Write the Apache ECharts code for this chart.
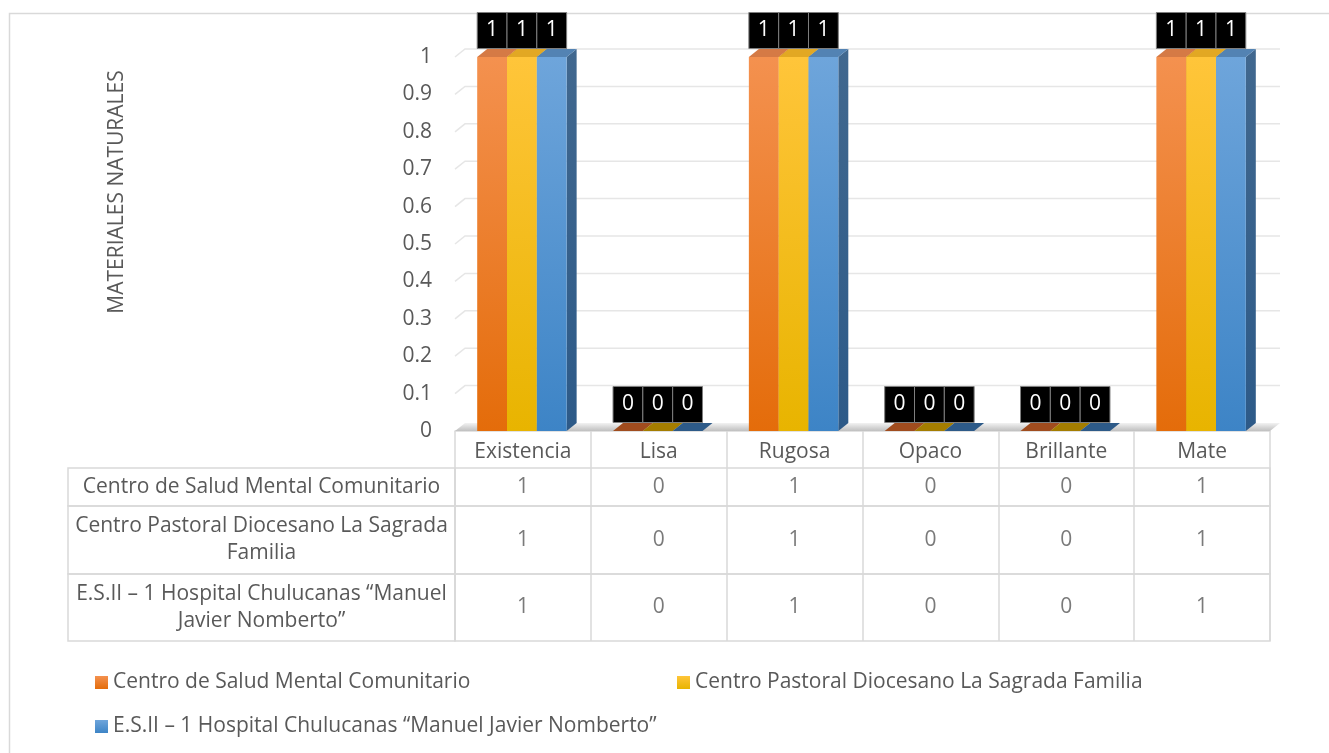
<!DOCTYPE html>
<html>
<head>
<meta charset="utf-8">
<script src="https://cdn.jsdelivr.net/npm/echarts@6/dist/echarts.min.js"></script>
<style>
html,body{margin:0;padding:0;background:#fff;}
#chart{width:1329px;height:753px;}
</style>
</head>
<body>
<div id="chart"></div>
<script>
const categories = ['Existencia', 'Lisa', 'Rugosa', 'Opaco', 'Brillante', 'Mate'];
const seriesNames = [
  'Centro de Salud Mental Comunitario',
  'Centro Pastoral Diocesano La Sagrada Familia',
  'E.S.II – 1 Hospital Chulucanas “Manuel Javier Nomberto”'
];
const rowLabels = [
  'Centro de Salud Mental Comunitario',
  'Centro Pastoral Diocesano La Sagrada\nFamilia',
  'E.S.II – 1 Hospital Chulucanas “Manuel\nJavier Nomberto”'
];
const valuesSaludMental = [1, 0, 1, 0, 0, 1];
const valuesPastoral = [1, 0, 1, 0, 0, 1];
const valuesHospital = [1, 0, 1, 0, 0, 1];
const yTicks = [0, 0.1, 0.2, 0.3, 0.4, 0.5, 0.6, 0.7, 0.8, 0.9, 1];
const yAxisTitle = 'MATERIALES NATURALES';

const allValues = [valuesSaludMental, valuesPastoral, valuesHospital];
const FONT = '"Open Sans", "Noto Sans", sans-serif';
const FS = 21;
const TXT = '#595959';
const LINE = '#d9d9d9';
const DX = 10, DY = -8;

const palettes = [
  { front: ['#F4914F', '#E46C0A'], top: '#D57A45', side: ['#B3582A', '#A04C1E'] },
  { front: ['#FFC53A', '#E8B400'], top: '#E2A823', side: ['#B88E10', '#A47D00'] },
  { front: ['#6EA5DB', '#3D84C6'], top: '#5383B3', side: ['#41688F', '#2D5A88'] }
];

function grad(c) {
  return new echarts.graphic.LinearGradient(0, 0, 0, 1, [
    { offset: 0, color: c[0] }, { offset: 1, color: c[1] }
  ]);
}

function makeBarRenderer(k) {
  const pal = palettes[k];
  return function (params, api) {
    const cat = api.value(0), val = api.value(1);
    const base = api.coord([cat, 0]);
    const top = api.coord([cat, val]);
    const band = api.size([1, 0])[0];
    const bw = band * 0.2195;
    const x = base[0] + (k - 1) * bw - bw / 2 - 1;
    const h = base[1] - top[1];
    const children = [];
    children.push({
      type: 'polygon',
      shape: { points: [[x + bw, top[1]], [x + bw + DX, top[1] + DY], [x + bw + DX, base[1] + DY], [x + bw, base[1]]] },
      style: { fill: grad(pal.side) }
    });
    if (h > 0) {
      children.push({
        type: 'rect',
        shape: { x: x, y: top[1], width: bw, height: h },
        style: { fill: grad(pal.front) }
      });
    }
    children.push({
      type: 'polygon',
      shape: { points: [[x, top[1]], [x + DX, top[1] + DY], [x + bw + DX, top[1] + DY], [x + bw, top[1]]] },
      style: { fill: val > 0 ? pal.top : pal.side[1] }
    });
    const boxH = 36, boxB = top[1] - 8.5;
    children.push({
      type: 'rect',
      shape: { x: x, y: boxB - boxH, width: bw, height: boxH },
      style: { fill: '#000', stroke: '#7f7f7f', lineWidth: 1 }
    });
    children.push({
      type: 'text',
      style: {
        x: x + bw / 2, y: boxB - boxH / 2, text: String(val),
        fill: '#fff', font: '21px ' + FONT, align: 'center', verticalAlign: 'middle'
      }
    });
    return { type: 'group', children: children };
  };
}

function renderGridLines(params, api) {
  const cs = params.coordSys;
  const v = api.value(1);
  const y = api.coord([0, v])[1];
  const x0 = cs.x, x1 = cs.x + cs.width;
  if (v === 0) {
    return {
      type: 'polygon',
      shape: { points: [[x0, y], [x0 + DX, y + DY], [x1 + DX, y + DY], [x1, y]] },
      style: {
        fill: new echarts.graphic.LinearGradient(0, 0, 0, 1, [
          { offset: 0, color: '#f2f2f2' }, { offset: 1, color: '#bfbfbf' }
        ])
      }
    };
  }
  return {
    type: 'polyline',
    shape: { points: [[x0, y], [x0 + DX, y + DY], [x1 + DX, y + DY]] },
    style: { stroke: '#e6e6e6', lineWidth: 1.5, fill: null }
  };
}

const chart = echarts.init(document.getElementById('chart'));

const rowTops = [468, 506, 574];
const rowHeights = [38, 68, 67];

const grids = [{ left: 455, right: 59, top: 57, bottom: 322 }];
const xAxes = [{
  type: 'category', data: categories, gridIndex: 0,
  axisLine: { show: true, lineStyle: { color: LINE, width: 1.5 } },
  axisTick: { show: true, length: 37, lineStyle: { color: LINE, width: 1.5 } },
  axisLabel: { color: TXT, fontSize: FS, fontFamily: FONT, margin: 11 },
  splitLine: { show: false }
}];
const yAxes = [{
  type: 'value', gridIndex: 0, min: 0, max: 1, interval: 0.1,
  axisLine: { show: false }, axisTick: { show: false },
  splitLine: { show: false },
  axisLabel: { color: TXT, fontSize: FS, fontFamily: FONT, margin: 23, formatter: v => String(+v.toFixed(1)) }
}];
const series = [{
  type: 'custom', name: 'grid', xAxisIndex: 0, yAxisIndex: 0, silent: true, z: 1,
  data: yTicks.map(v => [0, v]), encode: { x: 0, y: 1 },
  renderItem: renderGridLines
}];
allValues.forEach((vals, k) => {
  series.push({
    type: 'custom', name: seriesNames[k], xAxisIndex: 0, yAxisIndex: 0, z: 2,
    itemStyle: { color: grad(palettes[k].front) },
    data: vals.map((v, i) => [i, v]), encode: { x: 0, y: 1 },
    renderItem: makeBarRenderer(k)
  });
});

rowTops.forEach((t, r) => {
  grids.push({ left: 68, width: 387, top: t, height: rowHeights[r], show: true, borderColor: LINE, borderWidth: 1.5, backgroundColor: 'transparent' });
  grids.push({ left: 455, right: 59, top: t, height: rowHeights[r], show: true, borderColor: LINE, borderWidth: 1.5, backgroundColor: 'transparent' });
  const gi = grids.length - 1;
  xAxes.push({
    type: 'category', data: categories, gridIndex: gi,
    axisLine: { show: false }, axisTick: { show: false }, axisLabel: { show: false },
    splitLine: { show: true, lineStyle: { color: LINE, width: 1.5 } }
  });
  yAxes.push({
    type: 'category', data: [rowLabels[r]], gridIndex: gi,
    axisLine: { show: false }, axisTick: { show: false }, splitLine: { show: false },
    axisLabel: { color: TXT, fontSize: FS, fontFamily: FONT, align: 'center', margin: 193.5, lineHeight: 27 }
  });
  const ai = xAxes.length - 1;
  series.push({
    type: 'scatter', name: 'table' + r, xAxisIndex: ai, yAxisIndex: ai, silent: true,
    symbol: 'circle', symbolSize: 2, itemStyle: { color: 'rgba(0,0,0,0)' },
    data: categories.map((c, i) => [c, rowLabels[r], allValues[r][i]]),
    encode: { x: 0, y: 1 },
    label: { show: true, position: 'inside', formatter: p => String(p.value[2]), color: TXT, fontSize: FS, fontFamily: FONT }
  });
});

const legendBase = {
  orient: 'horizontal', padding: 0, itemWidth: 13, itemHeight: 13, icon: 'rect',
  textStyle: { color: TXT, fontSize: FS, fontFamily: FONT }, selectedMode: false
};

chart.setOption({
  animation: false,
  backgroundColor: '#fff',
  grid: grids,
  xAxis: xAxes,
  yAxis: yAxes,
  legend: [
    Object.assign({}, legendBase, { left: 95, top: 672, data: [seriesNames[0]] }),
    Object.assign({}, legendBase, { left: 677, top: 672, data: [seriesNames[1]] }),
    Object.assign({}, legendBase, { left: 95, top: 716, data: [seriesNames[2]] })
  ],
  graphic: [
    {
      type: 'rect', left: 7, top: 11, silent: true,
      shape: { width: 1321, height: 760 },
      style: { fill: 'none', stroke: LINE, lineWidth: 1.5 }
    },
    {
      type: 'text', x: 117, y: 192, rotation: Math.PI / 2,
      style: { text: yAxisTitle, fill: TXT, font: FS + 'px ' + FONT, align: 'center', verticalAlign: 'middle' }
    }
  ],
  series: series
});
</script>
</body>
</html>
